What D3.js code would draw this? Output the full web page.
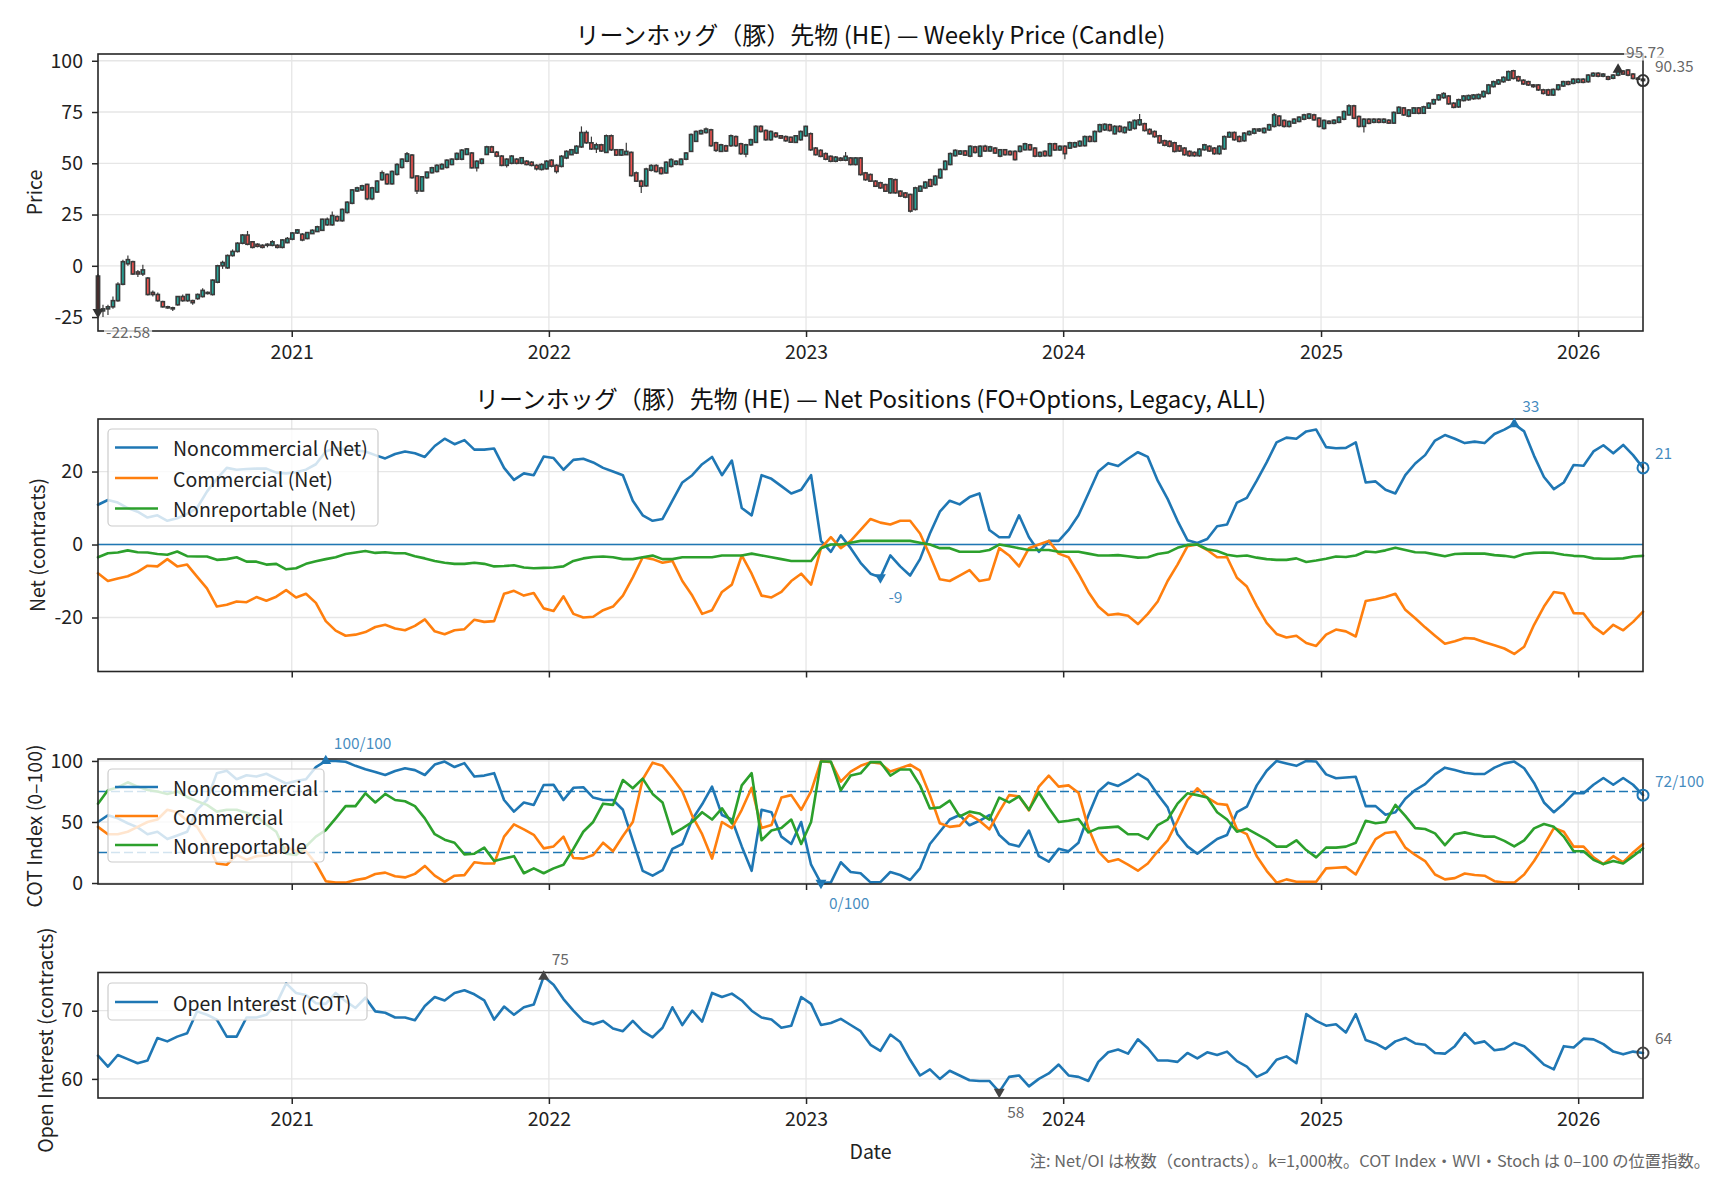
<!DOCTYPE html>
<html><head><meta charset="utf-8">
<script src="https://cdn.jsdelivr.net/npm/d3@7"></script>
<style>
html,body{margin:0;padding:0;background:#fff;}
svg{display:block;}
</style></head><body>
<svg id="chart" width="1728" height="1180"></svg>
<script>
// ---------------- DATA ----------------
const startDate = "2020-04-01", endDate = "2026-04-03";
const yearTicks = ["2021-01-01","2022-01-01","2023-01-01","2024-01-01","2025-01-01","2026-01-01"];
const titlePrice = "リーンホッグ（豚）先物 (HE) — Weekly Price (Candle)";
const titleNet = "リーンホッグ（豚）先物 (HE) — Net Positions (FO+Options, Legacy, ALL)";
const footnote = "注: Net/OI は枚数（contracts）。k=1,000枚。COT Index・WVI・Stoch は 0–100 の位置指数。";
const netLabels = ["Noncommercial (Net)","Commercial (Net)","Nonreportable (Net)"];
const idxLabels = ["Noncommercial","Commercial","Nonreportable"];
const oiLabel = "Open Interest (COT)";
const priceTicks = [-25,0,25,50,75,100];
const netTicks = [-20,0,20];
const idxTicks = [0,50,100];
const oiTicks = [60,70];
const idxBands = [75,25];

// weekly candles [open, high, low, close]
const candles = [
[-5,-4,-24,-22.58],[-22,-19,-25,-21],[-21,-19,-24,-20],[-20,-15,-21,-17],[-17,-8,-17.5,-9],[-9,3,-9.5,2],[1,5,0,3],[2,2.5,-4.5,-4],[-3,-2,-5.5,-4],[-4,0.5,-5,-2],
[-6,-5.5,-14.5,-14],[-13,-12,-15,-14],[-14,-13,-17.5,-17],[-17.5,-17,-20.5,-20],[-20,-19.5,-21,-20.5],[-20.5,-20,-22,-21],[-19,-15,-19.5,-15],[-15,-14,-17.5,-17],[-17,-14,-17.5,-14],[-17,-16.5,-19,-18],
[-16,-13.5,-16.5,-14],[-15,-11,-15.5,-12],[-13,-12.5,-14,-13.5],[-14,-6.5,-14.5,-7],[-8,0.5,-8.5,0],[0,2.5,-1.5,1.6],[-1,5.5,-1.5,5],[5,8,4.5,7],[7,11.5,6.5,11],[11,15.5,10.5,15],
[15,17,10,10.5],[11.7,12,8.5,9],[10.5,11,9,9.5],[10,10.5,8.5,9],[10,11,9,10.5],[10,12.5,9.5,11.7],[10,10.5,8.5,9],[9,13,8.5,12.6],[11.3,14,11,13.3],[13,16.5,12.5,16],
[16,18,15.5,17.5],[15.4,16,12,12.6],[13.3,16.5,13,16.2],[15.7,17.8,15.5,17.3],[16.7,19.5,16.5,19],[17.3,23,17,22.7],[20,23.5,19.5,22.7],[20,26.5,19.5,24.5],[24,24.5,21.5,22],[22,28,21.5,27.5],
[26,31.5,25.5,31],[30.5,37.5,30,37],[36.5,38.5,36,38],[37,39.5,36.5,39],[39.7,40,32,32.7],[32.7,38.5,32,38],[36,41.8,35.5,41.3],[42,46.5,41.5,45.4],[44.6,45,39.5,40],[40,46.5,39.5,46],
[44.6,50,44,49.4],[48,52.5,47.5,52],[51,55.5,50.5,54.6],[54,54.5,42.5,43],[43.8,44,35,36.5],[36.5,43.8,36,43.4],[43,46,42.5,45.7],[45.4,48.3,45,47.8],[46,49.5,45.5,49],[47.3,50,47,49.4],
[48,52,47.5,51.5],[49.4,52.5,49,52],[52,55.3,51.5,54.8],[52,57,51.5,56.4],[54.3,57.5,54,57],[55,55.5,47.5,47.8],[47.8,51.5,46,51],[50,52.5,49.5,52],[54.3,58.5,54,58],[58,58.5,55,55.4],
[55.4,56,53,53.5],[53.5,54,48.5,49],[49,52.5,48,52],[50,54,49.5,53.5],[52,52.5,49.5,50],[50,53,49.5,52.7],[51,51.5,49,49.4],[50.5,51,48.5,49],[49,49.5,46.5,47.3],[47,50,46.5,49.4],
[47.3,51.5,47,51],[51.5,52,48,48.6],[49,49.5,45,46],[48.5,54,48,53.4],[52.6,56.3,52,55.8],[54.2,57,54,56.6],[55,58.8,54.5,58.3],[58,68,57.5,65],[65,66,59.5,60],[60,63,56.5,57],
[57,60,55,59],[59,59.5,55.5,56],[55.3,64,55,63.4],[63.4,64,56,56.6],[56.6,57,53.5,54],[54,57,53.5,56.6],[54.2,60,54,55.8],[55.3,55.8,43.5,44],[45.3,46,41,41.3],[41.3,42,35.5,38.8],
[39,47.8,38.5,47.2],[46.6,49.5,46,48.9],[48.9,49.5,45.5,46],[47.7,48.3,44.5,45],[45.3,51,45,50.5],[48.5,52.5,48,51.8],[49.5,51.5,49,51],[49.4,52.5,49,52],[52,55.5,51.5,55],[55.8,64.5,55.5,64],
[60.7,66,60.5,65.5],[64.4,66.5,64,65.9],[65,67.5,64.5,66.7],[66.3,66.8,58,58.6],[60,60.5,55.5,56.3],[55.8,59.5,55.5,59],[58.5,59,55.5,56],[58.6,64,58,63.4],[63,63.5,58,58.6],[59.5,60,54,54.7],
[54.5,59.5,53,59],[59,62,58.5,61.5],[60.2,68.5,60,68],[68,68.5,65,65.5],[66,66.5,61,61.5],[61.5,66,61,65.5],[64.7,65.2,62.5,63],[63.4,63.8,62,62.3],[63,63.5,60.5,61],[62.7,63,60,60.3],
[60.2,63.8,60,63.4],[61.5,66,61,65.5],[63.4,68.3,63,68],[64.4,65,56,56.6],[57.4,58,53.8,54.2],[56.3,56.8,53,53.4],[54.7,55.2,51.5,52],[53.4,53.8,50.5,51],[51,53.5,50.5,53],[52.5,53,51,51.5],
[51.5,55.5,51,53.4],[52.6,53,49,49.4],[49.4,53,49,52.6],[52.6,53,44,44.5],[45.3,45.8,41.5,42],[44.5,45,41,41.3],[41.3,41.8,38.5,38.8],[40.5,41,37.5,38],[39.6,40,36,36.4],[35.6,42.8,35.2,42.4],
[42,42.5,35.2,35.6],[36.4,36.8,33.5,34],[35.5,36,33,33.5],[34.8,35.2,26,26.7],[27.5,38.5,27,38],[36.4,39.2,36,38.8],[38,41.2,37.6,40.8],[42,42.5,38.4,38.8],[39.6,44.2,39.2,43.7],[42.9,47.5,42.5,47],
[47,51.5,46.6,51],[49.4,55.2,49,54.7],[53.7,56.8,53.3,56.3],[54.5,56.5,54,56],[56,56.5,53.5,54],[53.5,58.8,53,58.3],[58,58.5,54.8,55.3],[53.5,58.8,53,58.3],[58.3,59,55.5,56],[56,58.5,55.5,58],
[57.4,58,54.5,55],[53.5,57,53,56.6],[56.6,57,53.8,54.2],[55.8,56.3,53.8,54.2],[55.8,56.3,51.3,51.8],[55.8,58.8,55.3,58.3],[56.6,60,56.2,59.5],[59,59.5,56.2,56.6],[57.4,57.9,53,53.5],[53.5,55.8,53,55.3],
[55.8,56.3,53.2,53.7],[53.7,60,53.2,59.5],[59.5,60,56,56.5],[56.5,58.8,56,58.3],[58.3,58.8,52,54.7],[57.4,60.5,57,60],[58,60.5,57.5,60],[58.5,61.2,58,60.7],[58.6,63.5,58.2,63],[63,63.5,60.2,60.7],
[60.7,66,60.3,65.5],[65.5,69.3,65,68.8],[66.3,69.5,65.8,69],[68.8,69.3,65.5,66],[64.4,68.5,64,68],[68,68.5,65,65.5],[65,68,64.5,67.5],[66.3,70.5,65.8,70],[67,71.4,66.5,70.9],[68.8,74,68.3,71.2],
[69.3,69.8,65.5,66],[66.5,67,64,64.4],[65.5,66,62.5,63],[63.4,63.9,59.5,60],[61,61.5,58.3,58.8],[60.7,61.2,57.8,58.3],[60,60.5,55.3,55.8],[58.5,59,55.5,56],[57.4,57.9,53.7,54.2],[55.8,56.3,53.2,53.7],
[55.3,55.8,53.2,53.7],[53.7,57.4,53.2,56.9],[56.6,59.5,56.2,59],[58.3,58.8,55.5,56],[57.4,57.9,54.2,54.7],[54.7,58.8,54.2,58.3],[57,63.5,56.5,63],[62.8,65.5,62.4,65],[65,65.5,61,61.5],[63,63.5,60.2,60.7],
[61,65.2,60.5,64.7],[64,66,63.5,65.5],[64.7,67.2,64.2,66.7],[65.8,67.2,65.3,66.7],[65,67.5,64.5,67],[66.3,69.3,65.8,68.8],[68,74.5,67.5,73.6],[73,73.5,68,68.5],[70.9,71.4,67.5,68],[68,70.9,67.5,70.4],
[69.6,72,69.1,71.5],[70.4,73,70,72.5],[71.5,74.1,71,73.6],[72,74.5,71.5,74],[73.6,74.1,70.7,71.2],[72,72.5,67.5,68],[67,71.4,66.5,70.9],[70.5,71,69,69.5],[69.5,71.5,69,71],[70,73,69.5,72.5],
[71.5,75.7,71,75.2],[73.6,78.8,73.2,78],[78,78.5,71.5,72],[72.8,73.3,67.5,68],[68,72,65,71.5],[71.5,72,69,69.5],[70,72,69.5,71.5],[71.5,72,69.5,70],[70,72,69.5,71.5],[71,71.5,69.1,69.6],
[69.6,75.3,69.1,74.8],[74.4,77.8,74,77.3],[77,77.5,73.1,73.6],[73,76.5,72.5,76],[74.4,77.5,74,77],[77,77.5,73.9,74.4],[74.4,78,74,77.5],[76.9,79.8,76.5,79.3],[79,81.5,78.6,81],[81,83.8,80.5,83.3],
[82,84.7,81.5,84],[82.8,83.3,78.5,79],[79.3,79.8,76.8,77.3],[77.5,81.5,77,81],[80.6,83.3,80.2,82.8],[81,83.5,80.5,83],[81.5,83.8,81,83.3],[81.6,84,81.2,83.5],[82.5,85.5,82,85],[84.1,88.7,83.6,88.2],
[87.4,90.3,87,89.8],[88.7,91.1,88.2,90.6],[89.8,92.4,89.3,91.9],[90.6,95.2,90.1,94.7],[95.1,95.6,90.9,91.4],[92.2,92.7,89.8,90.3],[90.5,91,88.2,88.7],[89.8,90.3,87.7,88.2],[88.2,88.7,86.9,87.4],[88.2,88.7,85.3,85.8],
[85.8,86.3,83.5,84.1],[85.8,86.3,82.8,83.3],[83.3,86.5,82.8,86],[86,88.7,85.5,88.2],[87.7,90.3,87.2,89.8],[89.8,90.3,88,88.5],[89,91.5,88.5,91],[89.5,91.5,89,91],[91,91.5,89,89.5],[89.8,93.5,89.3,93],
[92.6,94.4,92.1,93.9],[93.9,94.4,92,92.5],[92.5,94,92,93.5],[92.2,92.7,90.5,91],[91.5,93.5,91,93],[93,96.2,92.5,95.72],[95,95.5,93,93.5],[95.5,96,92.5,93],[93.5,94,90.9,91.4],[91.5,92,90.5,91],
[91,91.5,89.8,90.35]
];

// bi-weekly COT series (k = 1,000 contracts)
const ncNet = [10.9,12.2,11.5,10,9,7.4,8,6.5,7.2,8.4, 10,14.5,18,21,20.5,20.7,20.8,20.8,19.7,19.5, 19.8,20.5,22,25.5,26.5,26,25.8,25.5,24.5,23.6,
 24.8,25.5,25,24,27,29,27.5,28.6,26,26, 26.3,21,17.7,19.5,19,24.1,23.7,20.5,23.2,23.5, 22.5,21,20,19,12,8,6.5,7,12,17,
 19,22,24,19,23,10,8,19,18,16, 14,15,19,1,-2,2.5,-1,-5,-8,-9, -3,-6,-8.5,-4,3,9,12,11,13,14,
 4,2,2,8,2,-2,1,1,4,8, 14,20,22.3,21.5,23.5,25.3,24,17.5,12.5,6.5, 1.2,0.4,1.5,5,5.5,11.5,12.8,17.5,22.5,28,
 29.3,29,31,31.5,26.7,26.4,26.5,28,17,17.3, 15,14,19,22.2,24.5,28.5,30,29,27.8,28.2, 27.8,30.3,31.5,33,31,24.3,18.5,15.2,17,21.8,
 21.6,25.5,27.2,25,27.3,24.5,21];
const cNet = [-7.9,-10,-9.3,-8.7,-7.5,-5.8,-6,-4,-6,-5.5, -8.8,-12,-17,-16.5,-15.6,-15.8,-14.4,-15.4,-14.3,-12.5, -14.5,-13.5,-16,-21,-23.6,-25,-24.7,-24,-22.6,-22,
 -23,-23.5,-22.3,-20.5,-23.8,-24.6,-23.5,-23.2,-20.6,-21.2, -21,-13.5,-12.7,-14,-13.3,-17.5,-18.2,-14.2,-19,-20, -19.8,-18,-17,-14,-9,-3.5,-4,-5,-4.5,-10,
 -14,-19,-18,-13,-11,-3,-8,-14,-14.5,-13, -10,-8,-11,-1,2,-1,1,4,7,6, 5.5,6.5,6.5,3,-3,-9.5,-10,-8.5,-7,-10,
 -9.5,-1,-3,-6,-1,0,1,-2.5,-3.5,-8, -13,-17,-19.3,-19,-19.5,-21.8,-19,-15.6,-10,-5.5, -0.5,0,-1.5,-3.5,-3.5,-9.1,-11.5,-16.8,-21.5,-24.5,
 -25.5,-25,-27,-27.8,-24.7,-23.3,-23.8,-25.2,-15.5,-15, -14.4,-13.5,-17.9,-20.2,-22.7,-25,-27.2,-26.5,-25.6,-25.8, -26.8,-27.6,-28.5,-30,-28,-22,-17,-13,-13.4,-18.8,
 -18.9,-22.5,-24.5,-22,-23.5,-21.2,-18.4];
const nrNet = [-3.5,-2.4,-2.2,-1.6,-2.1,-2.2,-2.6,-2.8,-1.9,-3.2, -3.3,-3.3,-4.2,-4,-3.5,-4.7,-4.7,-5.5,-5.3,-6.8, -6.5,-5.3,-4.6,-4,-3.5,-2.6,-2.2,-1.8,-2.3,-2.1,
 -2.4,-2.4,-3.2,-3.8,-4.5,-5,-5.3,-5.3,-5,-5.3, -6,-5.9,-5.7,-6.3,-6.5,-6.4,-6.3,-6,-4.5,-3.8, -3.4,-3.3,-3.5,-4,-4,-3.5,-3,-4,-4,-3.5,
 -3.5,-3.5,-3.5,-3,-3,-3,-2.5,-3,-3.5,-4, -4.5,-4.5,-4.5,-1,0,0,0.5,1,1,1, 1,1,1,0.5,0,-1,-1,-2,-2,-2,
 -1.5,0,-0.5,-1,-1.5,-1.5,-1.5,-2,-2,-2, -2.5,-3,-3,-2.9,-3.2,-3.6,-3.5,-2.6,-2.2,-0.9, -0.1,0,-1.3,-1.8,-2.8,-3.2,-3,-3.6,-4,-4.2,
 -4.2,-3.8,-4.8,-4.4,-3.9,-3.3,-3.4,-3,-1.9,-2.1, -1.6,-0.9,-1.5,-2.1,-2.2,-2.7,-3.2,-2.6,-2.5,-2.5, -2.5,-2.9,-3.1,-3.5,-2.6,-2.3,-2.2,-2.3,-2.8,-3.1,
 -3.2,-3.8,-3.9,-3.9,-3.8,-3.3,-3.1];
const ncIdx = [50,55.5,53,49,45.6,40,42,36,39,42, 60,68,90,92,85,88.3,87.2,89.5,85.5,81.5, 83.5,85,95,100,100,99.3,96,93.2,91,88.5,
 91.8,94,92.5,88.5,97,99.5,95,98.2,87.2,88, 90,68,58.5,66,64,80.3,80.5,68,78,78.5, 70,68,68,60,35,10,6,10.5,28,32,
 52,64.5,79,55.7,52,30,10,60,58,38, 32,50,15,0,0.5,17,9,8,0.5,0.8, 9,6.6,2.5,12,32,42,52,55.7,47.3,51,
 55.7,39.3,32,30,43,22,17.5,28,26,33, 55.5,75,82.2,79.5,84,89.5,84.5,72.5,62,40, 30,24,30,36,39.3,58,62.5,80,92,100,
 98,96,100,99.5,89,85.8,86.5,87,63,63, 56,58,69,76.2,81,89,94.5,92.5,90.4,89.3, 89.3,94.5,98,99.5,94,82,66,58,65,73.5,
 73.5,80.5,86,80.5,86,80.5,72];
const cIdx = [46,40,40,42,46,50,52,60,58,51, 46,33,16,15,23,19,22,22.5,25,29.5, 26,26,16,1.5,0.3,0.3,2.5,3.8,7.4,8.5,
 5.5,4.6,7.5,14,6,1,6,6.5,17,16, 16,38,48,44,39.5,28.4,30,38,20.5,20, 23,33,26,38.5,50,85,98.6,96,86,75,
 55,40,20,50,45,60,78,45,47.5,70, 72,60,75,100,99,83,91.3,96,99,98, 91.3,94,97,92,72,49,46,47,56,51,
 44,58.5,72,71,59.5,79,88,79,80,74, 45,26,17.5,19.5,15,10.1,16,26,35,51, 68,77.6,70,65,64,44,40,22,10,0.3,
 3,1.1,1.1,1.1,12,12.5,13,7,22,36, 41,42,29,23,18,7,3,4,7.8,6.6, 6,1.5,0.3,0.3,7,18,31,45,42,29.8,
 29.8,21,15.5,22,17,25,32];
const nrIdx = [65,76,78.4,82.5,79,76.2,75,73,75,70.5, 67,64,58.5,60,60,57.5,54.4,48,42,24, 23,30,38,43.4,53,63,63,73.5,66,73,
 68,67,63,53,40,35.5,33,23.5,24,29, 18,20,22,8,12,8,12,15,28,42, 50,65,64,84.4,77.6,85.5,73,66,40,44.8,
 50,58,52,61.2,48.9,80,90,35,43,45, 52,32,50,99.5,99.5,76,88,89.9,99,99, 88,93,93,80,61,62,67.5,54.5,58.5,57,
 52,70,66,71,60,74,61.5,50,51,52.5, 41.5,45,45.6,46.2,40,40,36,47.5,52,65, 73.5,72,70,58,52,42,44.5,40,35.5,29.8,
 29.8,35,27,21,29,29,29.8,33,51,49, 50,64,55,45,44.3,40.7,31,40,41.5,39.5, 38,38,34.5,30,35,44.8,48.4,46,38,26,
 26,19,15.5,18,16,22,28.4];
const openInterest = [63.4,61.8,63.5,62.9,62.3,62.7,66,65.5,66.2,66.7, 69.9,69.4,68.7,66.2,66.2,69,69,69.4,71,74, 72.6,72.3,71.1,71,72.6,71.4,70.4,71.9,69.9,69.7,
 69,69,68.6,70.7,72,71.5,72.6,73,72.4,71.5, 68.7,70.6,69.4,70.5,70.9,75,73.8,71.7,70,68.5, 68,68.5,67.4,67,68.5,67,66.1,67.5,70.5,67.9,
 70,68.4,72.6,72,72.5,71.5,70,69,68.7,67.5, 67.8,72,71,67.9,68.2,68.8,67.9,67,65,64.1, 66.5,65.4,62.8,60.5,61.4,60,61.2,60.5,59.8,59.7,
 59.7,58.1,60.3,60.5,58.9,60,60.8,62.1,60.5,60.3, 59.7,62.5,63.9,64.3,63.7,65.8,64.5,62.7,62.7,62.5, 63.8,63,63.9,63.5,64,62.6,61.8,60.3,61,62.8,
 63.3,62.3,69.5,68.5,67.8,68,66.8,69.5,65.7,65.2, 64.4,65.5,66,65.2,65,63.8,63.7,64.8,66.7,65.2, 65.5,64.2,64.4,65.3,64.8,63.5,62.1,61.4,64.8,64.6,
 65.9,65.8,65.1,64,63.6,64,63.8];

// ---------------- CHART ----------------
const FONT = '"Noto Sans CJK JP","Noto Sans CJK SC","Noto Sans",sans-serif';
const BLUE = "#1f77b4", ORANGE = "#ff7f0e", GREEN = "#2ca02c";
const svg = d3.select("#chart").attr("font-family", FONT);
const L = 98, R = 1643;
const T0 = new Date(startDate + "T00:00:00"), T1 = new Date(endDate + "T00:00:00");
const x = d3.scaleTime().domain([T0, T1]).range([L, R]);
const years = yearTicks.map(s => new Date(s + "T00:00:00"));
const evenDates = n => { const s = (T1 - T0) / (n - 1); return d3.range(n).map(i => new Date(+T0 + i * s)); };
const cDates = evenDates(candles.length);
const lDates = evenDates(ncNet.length);

function makePanel(top, bottom, domain, ticks, showXLabels) {
  const y = d3.scaleLinear().domain(domain).range([bottom, top]);
  const g = svg.append("g");
  const grid = g.append("g").attr("stroke", "#e6e6e6").attr("stroke-width", 1.3);
  grid.selectAll("line.vx").data(years).join("line").attr("class", "vx")
    .attr("x1", d => x(d)).attr("x2", d => x(d)).attr("y1", top).attr("y2", bottom);
  grid.selectAll("line.hy").data(ticks).join("line").attr("class", "hy")
    .attr("x1", L).attr("x2", R).attr("y1", d => y(d)).attr("y2", d => y(d));
  const data = g.append("g");
  const over = g.append("g");
  const ay = over.append("g").attr("transform", `translate(${L},0)`)
    .call(d3.axisLeft(y).tickValues(ticks).tickSize(6).tickPadding(9).tickFormat(d => String(d)));
  const ax = over.append("g").attr("transform", `translate(0,${bottom})`)
    .call(d3.axisBottom(x).tickValues(years).tickSize(6).tickPadding(8)
      .tickFormat(showXLabels ? d3.timeFormat("%Y") : () => ""));
  [ay, ax].forEach(a => {
    a.select(".domain").remove();
    a.attr("font-size", 19.5).attr("font-family", FONT);
    a.selectAll("line").attr("stroke", "#262626").attr("stroke-width", 1.5);
    a.selectAll("text").attr("fill", "#222");
  });
  over.append("rect").attr("x", L).attr("y", top).attr("width", R - L).attr("height", bottom - top)
    .attr("fill", "none").attr("stroke", "#262626").attr("stroke-width", 1.6);
  const ann = g.append("g");
  return { y, data, ann, top, bottom };
}

function drawLine(p, values, color) {
  p.data.append("path").datum(values)
    .attr("d", d3.line().x((d, i) => x(lDates[i])).y(d => p.y(d)))
    .attr("fill", "none").attr("stroke", color).attr("stroke-width", 2.6)
    .attr("stroke-linejoin", "round").attr("stroke-linecap", "round");
}
function tri(p, px, py, up, color) {
  p.ann.append("path").attr("d", d3.symbol(d3.symbolTriangle, 52)())
    .attr("transform", `translate(${px},${py}) rotate(${up ? 0 : 180})`).attr("fill", color);
}
function ring(p, px, py, color) {
  p.ann.append("circle").attr("cx", px).attr("cy", py).attr("r", 5.5)
    .attr("fill", "none").attr("stroke", color).attr("stroke-width", 2);
}
function label(p, px, py, txt, dx, dy, color, op) {
  const t = p.ann.append("text").attr("x", px + dx).attr("y", py + dy)
    .attr("dominant-baseline", "central").attr("font-size", 15.5)
    .attr("fill", color).attr("fill-opacity", op).text(txt);
  const b = t.node().getBBox();
  p.ann.insert("rect", () => t.node()).attr("x", b.x - 2).attr("y", b.y + 1)
    .attr("width", b.width + 4).attr("height", b.height - 2).attr("fill", "#fff").attr("fill-opacity", 0.72);
}
function extremes(p, values, xs, fmt, lineColor, mk, txtColor, op, suffix) {
  const iMax = d3.maxIndex(values), iMin = d3.minIndex(values), iLast = values.length - 1;
  const X = i => x(xs[i]), Y = i => p.y(values[i]);
  tri(p, X(iMax), Y(iMax), true, mk);
  label(p, X(iMax), Y(iMax), fmt(values[iMax]) + suffix, 8, -19, txtColor, op);
  tri(p, X(iMin), Y(iMin), false, mk);
  label(p, X(iMin), Y(iMin), fmt(values[iMin]) + suffix, 8, 19, txtColor, op);
  ring(p, X(iLast), Y(iLast), lineColor);
  label(p, X(iLast), Y(iLast), fmt(values[iLast]) + suffix, 12, -15.5, txtColor, op);
}
function legend(x0, y0, w, h, items, row0, step) {
  const lg = svg.append("g");
  lg.append("rect").attr("x", x0).attr("y", y0).attr("width", w).attr("height", h).attr("rx", 4)
    .attr("fill", "#fff").attr("fill-opacity", 0.8).attr("stroke", "#cccccc").attr("stroke-width", 1.2);
  items.forEach((it, i) => {
    const yy = row0 + i * step;
    lg.append("line").attr("x1", x0 + 7).attr("x2", x0 + 50).attr("y1", yy).attr("y2", yy)
      .attr("stroke", it.color).attr("stroke-width", 2.6);
    lg.append("text").attr("x", x0 + 65).attr("y", yy).attr("dominant-baseline", "central")
      .attr("font-size", 19.5).attr("fill", "#222").text(it.label);
  });
}
function yTitle(txt, xx, yy) {
  svg.append("text").attr("transform", `translate(${xx},${yy}) rotate(-90)`)
    .attr("text-anchor", "middle").attr("dominant-baseline", "central")
    .attr("font-size", 19.5).attr("fill", "#222").text(txt);
}
function title(txt, yy) {
  svg.append("text").attr("x", (L + R) / 2).attr("y", yy).attr("text-anchor", "middle")
    .attr("dominant-baseline", "central").attr("font-size", 24).attr("fill", "#111").text(txt);
}

// Panel 1: candles
const p1 = makePanel(54, 331, [-31.8, 103.3], priceTicks, true);
const cg = p1.data.selectAll("g.c").data(candles).join("g").attr("class", "c");
cg.append("line").attr("x1", (d, i) => x(cDates[i])).attr("x2", (d, i) => x(cDates[i]))
  .attr("y1", d => p1.y(d[1])).attr("y2", d => p1.y(d[2])).attr("stroke", "#3a3a3a").attr("stroke-width", 1.2);
cg.append("rect").attr("x", (d, i) => x(cDates[i]) - 1.6).attr("width", 3.2)
  .attr("y", d => p1.y(Math.max(d[0], d[3])))
  .attr("height", d => Math.max(1, Math.abs(p1.y(d[0]) - p1.y(d[3]))))
  .attr("fill", d => d[3] >= d[0] ? "#26a69a" : "#ef5350").attr("stroke", "#3a3a3a").attr("stroke-width", 1.6);
const closes = candles.map(d => d[3]);
extremes(p1, closes, cDates, v => v.toFixed(2), "#333", "#333", "#555", 0.9, "");
title(titlePrice, 33);
yTitle("Price", 33, (54 + 331) / 2);

// Panel 2: net positions
const p2 = makePanel(419, 671.5, [-34.8, 34.4], netTicks, false);
p2.data.append("line").attr("x1", L).attr("x2", R).attr("y1", p2.y(0)).attr("y2", p2.y(0))
  .attr("stroke", BLUE).attr("stroke-width", 1.5);
drawLine(p2, ncNet, BLUE); drawLine(p2, cNet, ORANGE); drawLine(p2, nrNet, GREEN);
extremes(p2, ncNet, lDates, v => String(Math.round(v)), BLUE, BLUE, BLUE, 0.85, "");
title(titleNet, 397);
yTitle("Net (contracts)", 36, 545);
legend(108, 429, 270, 97, [{label: netLabels[0], color: BLUE}, {label: netLabels[1], color: ORANGE}, {label: netLabels[2], color: GREEN}], 447.5, 30.5);

// Panel 3: COT index
const p3 = makePanel(759, 884, [-0.8, 101.6], idxTicks, false);
idxBands.forEach(v => p3.data.append("line").attr("x1", L).attr("x2", R).attr("y1", p3.y(v)).attr("y2", p3.y(v))
  .attr("stroke", BLUE).attr("stroke-width", 1.5).attr("stroke-dasharray", "9,4"));
drawLine(p3, ncIdx, BLUE); drawLine(p3, cIdx, ORANGE); drawLine(p3, nrIdx, GREEN);
extremes(p3, ncIdx, lDates, v => String(Math.round(v)), BLUE, BLUE, BLUE, 0.85, "/100");
yTitle("COT Index (0–100)", 33, 826);
legend(108, 769, 216, 93, [{label: idxLabels[0], color: BLUE}, {label: idxLabels[1], color: ORANGE}, {label: idxLabels[2], color: GREEN}], 787, 29);

// Panel 4: open interest
const p4 = makePanel(972.5, 1098, [57.2, 75.6], oiTicks, true);
drawLine(p4, openInterest, BLUE);
extremes(p4, openInterest, lDates, v => String(Math.round(v)), "#444", "#444", "#555", 0.9, "");
yTitle("Open Interest (contracts)", 44, 1040);
legend(108, 983, 259, 37, [{label: oiLabel, color: BLUE}], 1002, 0);

svg.append("text").attr("x", (L + R) / 2).attr("y", 1150).attr("text-anchor", "middle")
  .attr("dominant-baseline", "central").attr("font-size", 19.5).attr("fill", "#222").text("Date");
svg.append("text").attr("x", 1710).attr("y", 1160).attr("text-anchor", "end")
  .attr("dominant-baseline", "central").attr("font-size", 16.3).attr("fill", "#666").text(footnote);
</script>
</body></html>
